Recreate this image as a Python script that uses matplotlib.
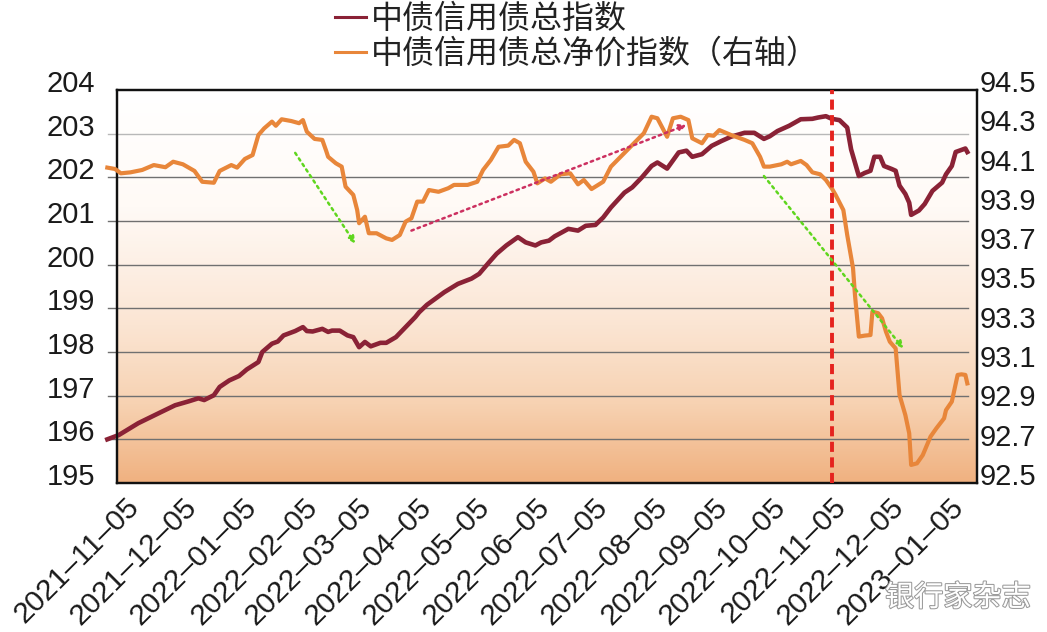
import numpy as np
import pandas as pd
import matplotlib
matplotlib.use('Agg')
import matplotlib.pyplot as plt
import matplotlib.dates as mdates
import matplotlib.patheffects as pe
from matplotlib.colors import LinearSegmentedColormap
from matplotlib.transforms import ScaledTranslation
from matplotlib.lines import Line2D

plt.rcParams['font.family'] = ['Liberation Sans', 'Noto Sans CJK SC']

# 中债信用债总指数 (左轴)
total_dates = [
    '2021-10-27', '2021-11-02', '2021-11-12', '2021-11-24', '2021-12-01', '2021-12-08',
    '2021-12-13', '2021-12-16', '2021-12-21', '2021-12-24', '2021-12-29', '2022-01-03',
    '2022-01-07', '2022-01-13', '2022-01-15', '2022-01-20', '2022-01-23', '2022-01-26',
    '2022-02-01', '2022-02-05', '2022-02-07', '2022-02-10', '2022-02-15', '2022-02-18',
    '2022-02-20', '2022-02-24', '2022-02-28', '2022-03-03', '2022-03-06', '2022-03-09',
    '2022-03-12', '2022-03-17', '2022-03-20', '2022-03-25', '2022-03-30', '2022-04-04',
    '2022-04-06', '2022-04-10', '2022-04-19', '2022-04-26', '2022-05-03', '2022-05-07',
    '2022-05-12', '2022-05-16', '2022-05-21', '2022-05-27', '2022-05-31', '2022-06-05',
    '2022-06-08', '2022-06-12', '2022-06-15', '2022-06-22', '2022-06-27', '2022-07-01',
    '2022-07-06', '2022-07-10', '2022-07-14', '2022-07-21', '2022-07-25', '2022-07-30',
    '2022-08-04', '2022-08-07', '2022-08-12', '2022-08-18', '2022-08-22', '2022-08-25',
    '2022-08-30', '2022-09-04', '2022-09-09', '2022-09-14', '2022-09-21', '2022-09-26',
    '2022-10-01', '2022-10-04', '2022-10-08', '2022-10-14', '2022-10-20', '2022-10-26',
    '2022-10-29', '2022-11-02', '2022-11-05', '2022-11-09', '2022-11-13', '2022-11-15',
    '2022-11-19', '2022-11-22', '2022-11-25', '2022-11-27', '2022-11-30', '2022-12-02',
    '2022-12-06', '2022-12-08', '2022-12-10', '2022-12-13', '2022-12-15', '2022-12-16',
    '2022-12-20', '2022-12-23', '2022-12-27', '2023-01-01', '2023-01-03', '2023-01-06',
    '2023-01-08', '2023-01-13', '2023-01-14',
]
total_vals = [
    196.00, 196.10, 196.37, 196.63, 196.78, 196.87,
    196.94, 196.90, 197.01, 197.20, 197.35, 197.45,
    197.60, 197.77, 198.00, 198.19, 198.24, 198.38,
    198.48, 198.57, 198.48, 198.47, 198.53, 198.46,
    198.49, 198.49, 198.38, 198.34, 198.11, 198.23,
    198.13, 198.21, 198.21, 198.34, 198.57, 198.80,
    198.91, 199.08, 199.37, 199.56, 199.68, 199.79,
    200.05, 200.25, 200.44, 200.63, 200.51, 200.44,
    200.51, 200.55, 200.65, 200.82, 200.78, 200.89,
    200.91, 201.08, 201.31, 201.65, 201.77, 202.00,
    202.26, 202.34, 202.20, 202.57, 202.61, 202.47,
    202.53, 202.72, 202.83, 202.93, 203.02, 203.02,
    202.88, 202.94, 203.06, 203.18, 203.33, 203.34,
    203.37, 203.40, 203.34, 203.31, 203.14, 202.64,
    202.03, 202.10, 202.15, 202.47, 202.47, 202.26,
    202.19, 202.15, 201.81, 201.62, 201.42, 201.14,
    201.24, 201.39, 201.69, 201.88, 202.07, 202.26,
    202.58, 202.66, 202.58,
]

# 中债信用债总净价指数 (右轴)
net_dates = [
    '2021-10-27', '2021-10-31', '2021-11-03', '2021-11-08', '2021-11-14', '2021-11-20',
    '2021-11-26', '2021-11-30', '2021-12-05', '2021-12-11', '2021-12-15', '2021-12-21',
    '2021-12-24', '2021-12-30', '2022-01-02', '2022-01-06', '2022-01-10', '2022-01-13',
    '2022-01-16', '2022-01-20', '2022-01-22', '2022-01-25', '2022-01-30', '2022-02-03',
    '2022-02-05', '2022-02-07', '2022-02-11', '2022-02-15', '2022-02-17', '2022-02-18',
    '2022-02-22', '2022-02-25', '2022-02-27', '2022-03-03', '2022-03-05', '2022-03-06',
    '2022-03-09', '2022-03-11', '2022-03-15', '2022-03-20', '2022-03-23', '2022-03-27',
    '2022-03-30', '2022-04-02', '2022-04-05', '2022-04-08', '2022-04-11', '2022-04-16',
    '2022-04-21', '2022-04-24', '2022-05-01', '2022-05-06', '2022-05-09', '2022-05-13',
    '2022-05-17', '2022-05-22', '2022-05-25', '2022-05-28', '2022-05-31', '2022-06-04',
    '2022-06-06', '2022-06-10', '2022-06-13', '2022-06-18', '2022-06-23', '2022-06-27',
    '2022-06-30', '2022-07-04', '2022-07-10', '2022-07-14', '2022-07-19', '2022-07-25',
    '2022-07-31', '2022-08-04', '2022-08-07', '2022-08-12', '2022-08-15', '2022-08-19',
    '2022-08-23', '2022-08-25', '2022-08-30', '2022-09-02', '2022-09-05', '2022-09-08',
    '2022-09-14', '2022-09-21', '2022-09-25', '2022-09-29', '2022-10-01', '2022-10-04',
    '2022-10-10', '2022-10-13', '2022-10-15', '2022-10-20', '2022-10-23', '2022-10-26',
    '2022-10-30', '2022-11-02', '2022-11-05', '2022-11-07', '2022-11-11', '2022-11-13',
    '2022-11-16', '2022-11-17', '2022-11-19', '2022-11-22', '2022-11-25', '2022-11-26',
    '2022-11-29', '2022-12-01', '2022-12-03', '2022-12-05', '2022-12-08', '2022-12-09',
    '2022-12-10', '2022-12-13', '2022-12-15', '2022-12-16', '2022-12-19', '2022-12-22',
    '2022-12-26', '2022-12-29', '2023-01-02', '2023-01-03', '2023-01-06', '2023-01-09',
    '2023-01-11', '2023-01-13', '2023-01-14',
]
net_vals = [
    94.105, 94.098, 94.076, 94.081, 94.093, 94.118,
    94.107, 94.135, 94.122, 94.088, 94.033, 94.028,
    94.088, 94.118, 94.105, 94.149, 94.169, 94.271,
    94.305, 94.339, 94.318, 94.351, 94.342, 94.331,
    94.347, 94.288, 94.251, 94.246, 94.190, 94.160,
    94.127, 94.110, 94.008, 93.966, 93.889, 93.822,
    93.855, 93.771, 93.771, 93.745, 93.737, 93.762,
    93.830, 93.847, 93.932, 93.932, 93.991, 93.982,
    94.000, 94.017, 94.017, 94.033, 94.093, 94.144,
    94.211, 94.217, 94.246, 94.229, 94.135, 94.084,
    94.025, 94.050, 94.033, 94.071, 94.076, 94.020,
    94.042, 93.996, 94.033, 94.110, 94.160, 94.220,
    94.280, 94.364, 94.356, 94.262, 94.356, 94.364,
    94.347, 94.254, 94.229, 94.271, 94.267, 94.296,
    94.271, 94.246, 94.229, 94.160, 94.110, 94.110,
    94.122, 94.135, 94.122, 94.139, 94.118, 94.081,
    94.071, 94.042, 94.000, 93.966, 93.889, 93.762,
    93.593, 93.457, 93.245, 93.250, 93.253, 93.372,
    93.364, 93.338, 93.270, 93.219, 93.185, 93.066,
    92.948, 92.846, 92.753, 92.592, 92.600, 92.642,
    92.736, 92.778, 92.829, 92.871, 92.914, 93.050,
    93.053, 93.050, 93.007,
]

series_names = ['中债信用债总指数', '中债信用债总净价指数（右轴）']
tick_dates = ['2021-11-05', '2021-12-05', '2022-01-05', '2022-02-05', '2022-03-05',
              '2022-04-05', '2022-05-05', '2022-06-05', '2022-07-05', '2022-08-05',
              '2022-09-05', '2022-10-05', '2022-11-05', '2022-12-05', '2023-01-05']
tick_labels = [d.replace('-', '–') for d in tick_dates]
left_ticks = list(range(195, 205))
right_ticks = [92.5, 92.7, 92.9, 93.1, 93.3, 93.5, 93.7, 93.9, 94.1, 94.3, 94.5]
mark_date = '2022-11-05'

# 趋势箭头 (起点, 终点), 左轴数值
arrows = [
    (('2022-02-01', 202.56), ('2022-03-04', 200.48), '#5fd61e'),
    (('2022-04-02', 200.78), ('2022-08-22', 203.20), '#cc3060'),
    (('2022-10-01', 202.03), ('2022-12-12', 198.08), '#5fd61e'),
]

c_total = '#8a2236'
c_net = '#e8863a'

fig = plt.figure(figsize=(10.47, 6.32), dpi=100)
ax = fig.add_axes([0.11175, 0.23576, 0.82139, 0.62184])
ax2 = ax.twinx()

# 背景渐变
cmap = LinearSegmentedColormap.from_list(
    'bg', [(0, '#ffffff'), (0.3, '#fffaf6'), (0.6, '#fbe5d3'), (0.8, '#f7d2b2'), (1, '#f0b180')])
grad = np.linspace(0, 1, 256).reshape(-1, 1)
ax.imshow(grad, cmap=cmap, extent=(0, 1, 0, 1), transform=ax.transAxes,
          aspect='auto', zorder=0)

# 网格线
for v in left_ticks[1:-1]:
    ax.axhline(v, xmin=-0.0105, xmax=0.9895, color='#b8b8b8' if v == 203 else '#707070',
               lw=1.0, clip_on=False, zorder=1)

ax.plot(pd.to_datetime(total_dates), total_vals, color=c_total, lw=3.3,
        clip_on=False, zorder=3, solid_joinstyle='round')
ax2.plot(pd.to_datetime(net_dates), net_vals, color=c_net, lw=3.0,
         clip_on=False, zorder=3, solid_joinstyle='round')

ax.set_xlim(pd.Timestamp('2021-11-01'), pd.Timestamp('2023-01-19'))
ax.set_ylim(195, 204)
ax2.set_ylim(92.5, 94.5)

ax2.axvline(pd.Timestamp(mark_date), color='#e5231e', lw=2.8, ls=(0, (2.6, 1.4)), zorder=5)

for (d0, v0), (d1, v1), col in arrows:
    x0 = mdates.date2num(pd.Timestamp(d0))
    x1 = mdates.date2num(pd.Timestamp(d1))
    ax2.annotate('', xy=(x1, v1), xytext=(x0, v0),
                 xycoords=ax.transData, textcoords=ax.transData,
                 arrowprops=dict(arrowstyle='-|>', color=col, lw=1.8, ls=':',
                                 mutation_scale=10, shrinkA=0, shrinkB=0), zorder=6)

# 坐标轴
ax.set_xticks(pd.to_datetime(tick_dates))
ax.set_xticklabels(tick_labels, rotation=45, ha='right', va='top', rotation_mode='anchor')
ax.tick_params(axis='x', length=0, pad=7, labelsize=21.5, colors='#1a1a1a')
ax.set_yticks(left_ticks)
ax.set_yticklabels([str(v) for v in left_ticks])
ax.tick_params(axis='y', length=0, pad=16, labelsize=21, colors='#1a1a1a')
ax2.set_yticks(right_ticks)
ax2.set_yticklabels(['%.1f' % v for v in right_ticks])
ax2.tick_params(axis='y', length=0, pad=2, labelsize=21, colors='#1a1a1a')

up = ScaledTranslation(0, 0.09, fig.dpi_scale_trans)
for lab in ax.get_yticklabels() + ax2.get_yticklabels():
    lab.set_transform(lab.get_transform() + up)

for a in (ax, ax2):
    for s in a.spines.values():
        s.set_linewidth(1.6)
        s.set_color('#111111')

handles = [Line2D([], [], color=c_total, lw=2.2), Line2D([], [], color=c_net, lw=2.2)]
fig.legend(handles, series_names, loc='upper left', bbox_to_anchor=(335 / 1047, 1 - 5 / 632),
           frameon=False, fontsize=23, handlelength=0.97, handletextpad=0.15,
           labelspacing=0.12, borderpad=0, borderaxespad=0, labelcolor='#222222')

fig.text(885 / 1047, 1 - 598 / 632, '银行家杂志', fontsize=21, color='white',
         family=['Noto Sans CJK SC'], ha='left', va='center',
         path_effects=[pe.withStroke(linewidth=1.5, foreground='#9a9a9a')])

fig.savefig('out.png', dpi=100)
